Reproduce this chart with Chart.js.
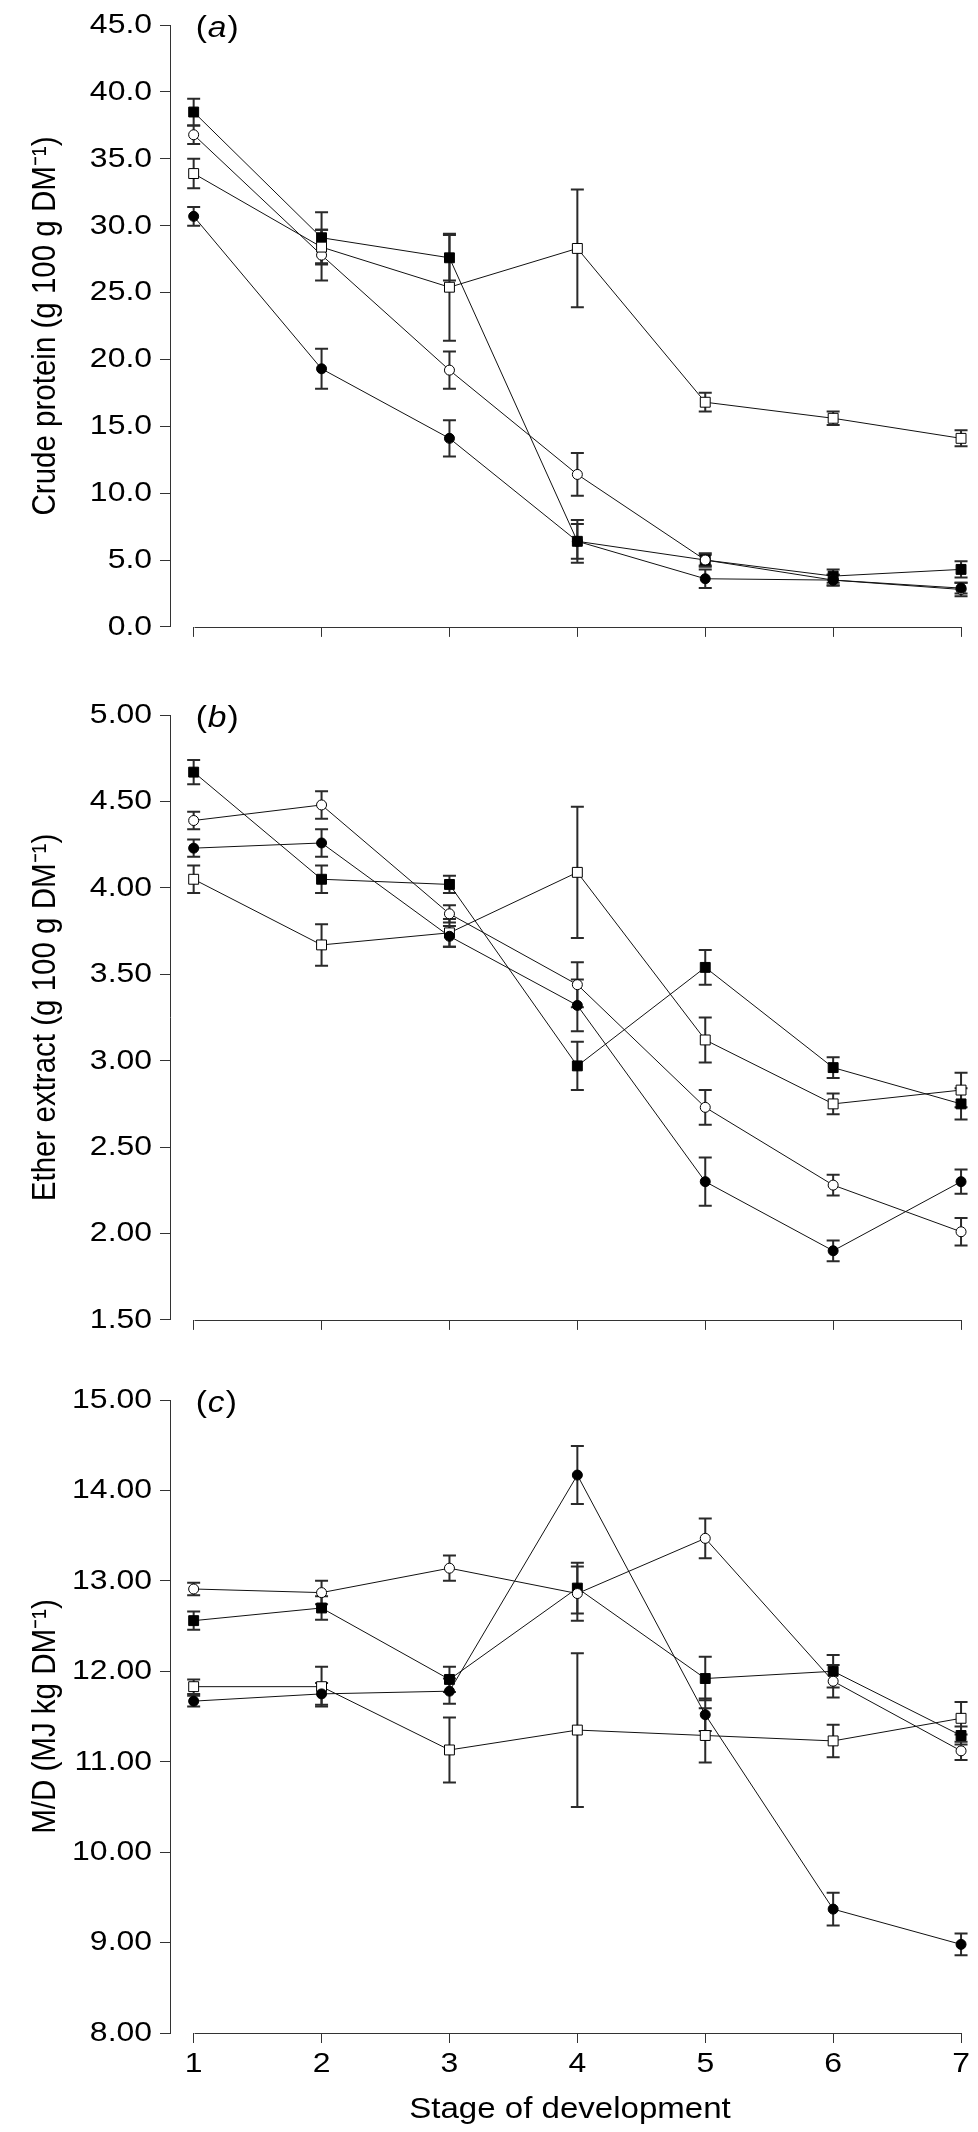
<!DOCTYPE html>
<html><head><meta charset="utf-8">
<script src="https://cdn.jsdelivr.net/npm/chart.js@4.4.0/dist/chart.umd.min.js"></script>
<style>
html,body{margin:0;padding:0;background:#fff;}
#wrap{position:relative;width:978px;height:2132px;background:#fff;}
canvas{position:absolute;left:0;}
</style></head><body>
<div id="wrap">
<canvas id="cA" width="978" height="652" style="top:0px;width:978px;height:652px"></canvas>
<canvas id="cB" width="978" height="655" style="top:690px;width:978px;height:655px"></canvas>
<canvas id="cC" width="978" height="760" style="top:1372px;width:978px;height:760px"></canvas>
</div>
<script>
// ---------- DATA ----------
const stages = [1, 2, 3, 4, 5, 6, 7];
const xTickLabels = ['1', '2', '3', '4', '5', '6', '7'];

// Panel (a) Crude protein
const cpTickValues = [0, 5, 10, 15, 20, 25, 30, 35, 40, 45];
const cpTickLabels = ['0.0', '5.0', '10.0', '15.0', '20.0', '25.0', '30.0', '35.0', '40.0', '45.0'];
const cpFilledSquare = [38.5, 29.1, 27.6, 6.4, 5.0, 3.8, 4.3];
const cpFilledSquareErr = [1.0, 1.9, 1.7, 1.6, 0.5, 0.5, 0.6];
const cpOpenCircle = [36.8, 27.8, 19.2, 11.4, 5.0, 3.5, 2.8];
const cpOpenCircleErr = [0.7, 1.9, 1.4, 1.6, 0.4, 0.4, 0.5];
const cpOpenSquare = [33.9, 28.4, 25.4, 28.3, 16.8, 15.6, 14.1];
const cpOpenSquareErr = [1.1, 1.3, 4.0, 4.4, 0.7, 0.5, 0.6];
const cpFilledCircle = [30.7, 19.3, 14.1, 6.4, 3.6, 3.5, 2.9];
const cpFilledCircleErr = [0.7, 1.5, 1.35, 1.3, 0.7, 0.4, 0.4];

// Panel (b) Ether extract
const eeTickValues = [1.5, 2.0, 2.5, 3.0, 3.5, 4.0, 4.5, 5.0];
const eeTickLabels = ['1.50', '2.00', '2.50', '3.00', '3.50', '4.00', '4.50', '5.00'];
const eeFilledSquare = [4.67, 4.05, 4.02, 2.97, 3.54, 2.96, 2.75];
const eeFilledSquareErr = [0.07, 0.08, 0.05, 0.14, 0.10, 0.06, 0.09];
const eeOpenCircle = [4.39, 4.48, 3.85, 3.44, 2.73, 2.28, 2.01];
const eeOpenCircleErr = [0.05, 0.08, 0.05, 0.13, 0.10, 0.06, 0.08];
const eeOpenSquare = [4.05, 3.67, 3.74, 4.09, 3.12, 2.75, 2.83];
const eeOpenSquareErr = [0.08, 0.12, 0.08, 0.38, 0.13, 0.06, 0.10];
const eeFilledCircle = [4.23, 4.26, 3.72, 3.32, 2.30, 1.90, 2.30];
const eeFilledCircleErr = [0.05, 0.08, 0.06, 0.15, 0.14, 0.06, 0.07];

// Panel (c) M/D
const mdTickValues = [8, 9, 10, 11, 12, 13, 14, 15];
const mdTickLabels = ['8.00', '9.00', '10.00', '11.00', '12.00', '13.00', '14.00', '15.00'];
const mdFilledSquare = [12.56, 12.70, 11.91, 12.92, 11.92, 12.00, 11.29];
const mdFilledSquareErr = [0.10, 0.13, 0.14, 0.28, 0.24, 0.18, 0.10];
const mdOpenCircle = [12.91, 12.87, 13.14, 12.86, 13.47, 11.89, 11.12];
const mdOpenCircleErr = [0.07, 0.13, 0.14, 0.30, 0.22, 0.18, 0.10];
const mdOpenSquare = [11.83, 11.83, 11.13, 11.35, 11.29, 11.23, 11.48];
const mdOpenSquareErr = [0.08, 0.22, 0.36, 0.85, 0.30, 0.18, 0.18];
const mdFilledCircle = [11.67, 11.75, 11.78, 14.17, 11.52, 9.37, 8.98];
const mdFilledCircleErr = [0.06, 0.12, 0.14, 0.32, 0.18, 0.18, 0.12];

// ---------- STYLE / HELPERS ----------
const FONT = "'Liberation Sans', Arial, Helvetica, sans-serif";
const INK = '#000';
const AXIS = '#333';
const TEXT_SX = 1.12; // the original figure's lettering is slightly widened

// widen text horizontally (in device space) around each text's anchor point
function widenText(canvas) {
  const ctx = canvas.getContext('2d');
  const orig = ctx.fillText;
  ctx.fillText = function (text, x, y, maxWidth) {
    const m = ctx.getTransform();
    const p = m.transformPoint(new DOMPoint(x, y));
    ctx.save();
    ctx.setTransform(new DOMMatrix().translate(p.x, p.y).scale(TEXT_SX, 1).translate(-p.x, -p.y).multiply(m));
    if (maxWidth === undefined) orig.call(ctx, text, x, y);
    else orig.call(ctx, text, x, y, maxWidth);
    ctx.restore();
  };
}

function series(values, errs, kind) {
  const filled = kind === 'filledSquare' || kind === 'filledCircle';
  const isSquare = kind === 'filledSquare' || kind === 'openSquare';
  return {
    label: kind,
    data: stages.map((s, i) => ({ x: s, y: values[i] })),
    errors: errs,
    showLine: true,
    borderColor: '#111',
    borderWidth: 1,
    pointStyle: isSquare ? 'rect' : 'circle',
    pointRadius: isSquare ? 7 : 5,
    pointHoverRadius: isSquare ? 7 : 5,
    pointBackgroundColor: filled ? '#000' : '#fff',
    pointBorderColor: '#000',
    pointBorderWidth: 1,
    tension: 0,
    fill: false
  };
}

const panelPlugin = {
  id: 'panel',
  beforeDatasetsDraw(chart) {
    const { ctx, scales: { x, y } } = chart;
    ctx.save();
    ctx.strokeStyle = '#2a2a2a';
    ctx.lineWidth = 2;
    chart.data.datasets.forEach(ds => {
      ds.data.forEach((p, i) => {
        const e = ds.errors[i];
        const px = x.getPixelForValue(p.x);
        const y1 = y.getPixelForValue(p.y + e);
        const y2 = y.getPixelForValue(p.y - e);
        ctx.beginPath();
        ctx.moveTo(px, y1); ctx.lineTo(px, y2);
        ctx.moveTo(px - 6.5, y1); ctx.lineTo(px + 6.5, y1);
        ctx.moveTo(px - 6.5, y2); ctx.lineTo(px + 6.5, y2);
        ctx.stroke();
      });
    });
    ctx.restore();
  },
  afterDraw(chart, args, opts) {
    const { ctx, scales: { x, y }, chartArea } = chart;
    ctx.save();
    // detached x axis line from first to last stage
    const yb = Math.round(chartArea.bottom) + 0.5;
    ctx.strokeStyle = AXIS;
    ctx.lineWidth = 1;
    ctx.beginPath();
    ctx.moveTo(Math.round(x.getPixelForValue(stages[0])) + 0.5, yb);
    ctx.lineTo(Math.round(x.getPixelForValue(stages[stages.length - 1])) + 0.5, yb);
    ctx.stroke();
    // panel letter
    const lx = x.getPixelForValue(stages[0]) + 2;
    const ly = y.getPixelForValue(y.max) + 4;
    ctx.fillStyle = INK;
    ctx.textBaseline = 'middle';
    ctx.textAlign = 'left';
    ctx.font = '30px ' + FONT;
    ctx.fillText('(', lx, ly);
    let w = ctx.measureText('(').width * TEXT_SX;
    ctx.font = 'italic 30px ' + FONT;
    ctx.fillText(opts.letter, lx + w + 1, ly);
    w += ctx.measureText(opts.letter).width * TEXT_SX + 2;
    ctx.font = '30px ' + FONT;
    ctx.fillText(')', lx + w, ly);
    ctx.restore();
  }
};

function makePanel(id, cfg) {
  const canvas = document.getElementById(id);
  widenText(canvas);
  return new Chart(canvas, {
    type: 'line',
    data: {
      datasets: [
        series(cfg.fc, cfg.fcErr, 'filledCircle'),
        series(cfg.os, cfg.osErr, 'openSquare'),
        series(cfg.oc, cfg.ocErr, 'openCircle'),
        series(cfg.fs, cfg.fsErr, 'filledSquare')
      ]
    },
    plugins: [panelPlugin],
    options: {
      responsive: false,
      animation: false,
      devicePixelRatio: 1,
      layout: { padding: { top: cfg.padTop, right: 1, bottom: 0, left: 0 } },
      plugins: {
        legend: { display: false },
        tooltip: { enabled: false },
        panel: { letter: cfg.letter }
      },
      scales: {
        x: {
          type: 'linear',
          min: 0.815,
          max: 7.07,
          afterBuildTicks: s => { s.ticks = stages.map(v => ({ value: v })); },
          afterFit: s => { s.height = cfg.xHeight; },
          grid: { display: true, drawOnChartArea: false, drawTicks: true, tickLength: 10, color: AXIS, lineWidth: 1 },
          border: { display: false },
          ticks: {
            display: cfg.xLabels,
            autoSkip: false,
            maxRotation: 0,
            padding: 4,
            color: INK,
            font: { family: FONT, size: 28.5 },
            callback: (v, i) => xTickLabels[i]
          },
          title: {
            display: cfg.xLabels,
            text: 'Stage of development',
            color: INK,
            font: { family: FONT, size: 29.5 },
            padding: { top: 0, bottom: 4 }
          }
        },
        y: {
          type: 'linear',
          min: cfg.yTicks[0],
          max: cfg.yTicks[cfg.yTicks.length - 1],
          afterBuildTicks: s => { s.ticks = cfg.yTicks.map(v => ({ value: v })); },
          afterFit: s => { s.width = 170; },
          grid: { display: true, drawOnChartArea: false, drawTicks: true, tickLength: 10, color: AXIS, lineWidth: 1 },
          border: { display: true, color: AXIS, width: 1 },
          ticks: {
            padding: 8,
            color: INK,
            font: { family: FONT, size: 28.5 },
            callback: (v, i) => cfg.yLabels[i]
          },
          title: {
            display: true,
            text: cfg.yTitle,
            color: INK,
            font: { family: FONT, size: 29.5 },
            padding: { top: 28, bottom: 0 }
          }
        }
      }
    }
  });
}

makePanel('cA', {
  letter: 'a', padTop: 22, xHeight: 14, xLabels: false,
  yTicks: cpTickValues, yLabels: cpTickLabels,
  yTitle: 'Crude protein (g 100 g DM\u207B\u00B9)',
  fs: cpFilledSquare, fsErr: cpFilledSquareErr,
  oc: cpOpenCircle, ocErr: cpOpenCircleErr,
  os: cpOpenSquare, osErr: cpOpenSquareErr,
  fc: cpFilledCircle, fcErr: cpFilledCircleErr
});
makePanel('cB', {
  letter: 'b', padTop: 24, xHeight: 14, xLabels: false,
  yTicks: eeTickValues, yLabels: eeTickLabels,
  yTitle: 'Ether extract (g 100 g DM\u207B\u00B9)',
  fs: eeFilledSquare, fsErr: eeFilledSquareErr,
  oc: eeOpenCircle, ocErr: eeOpenCircleErr,
  os: eeOpenSquare, osErr: eeOpenSquareErr,
  fc: eeFilledCircle, fcErr: eeFilledCircleErr
});
makePanel('cC', {
  letter: 'c', padTop: 28, xHeight: 99, xLabels: true,
  yTicks: mdTickValues, yLabels: mdTickLabels,
  yTitle: 'M/D (MJ kg DM\u207B\u00B9)',
  fs: mdFilledSquare, fsErr: mdFilledSquareErr,
  oc: mdOpenCircle, ocErr: mdOpenCircleErr,
  os: mdOpenSquare, osErr: mdOpenSquareErr,
  fc: mdFilledCircle, fcErr: mdFilledCircleErr
});
</script>
</body></html>
